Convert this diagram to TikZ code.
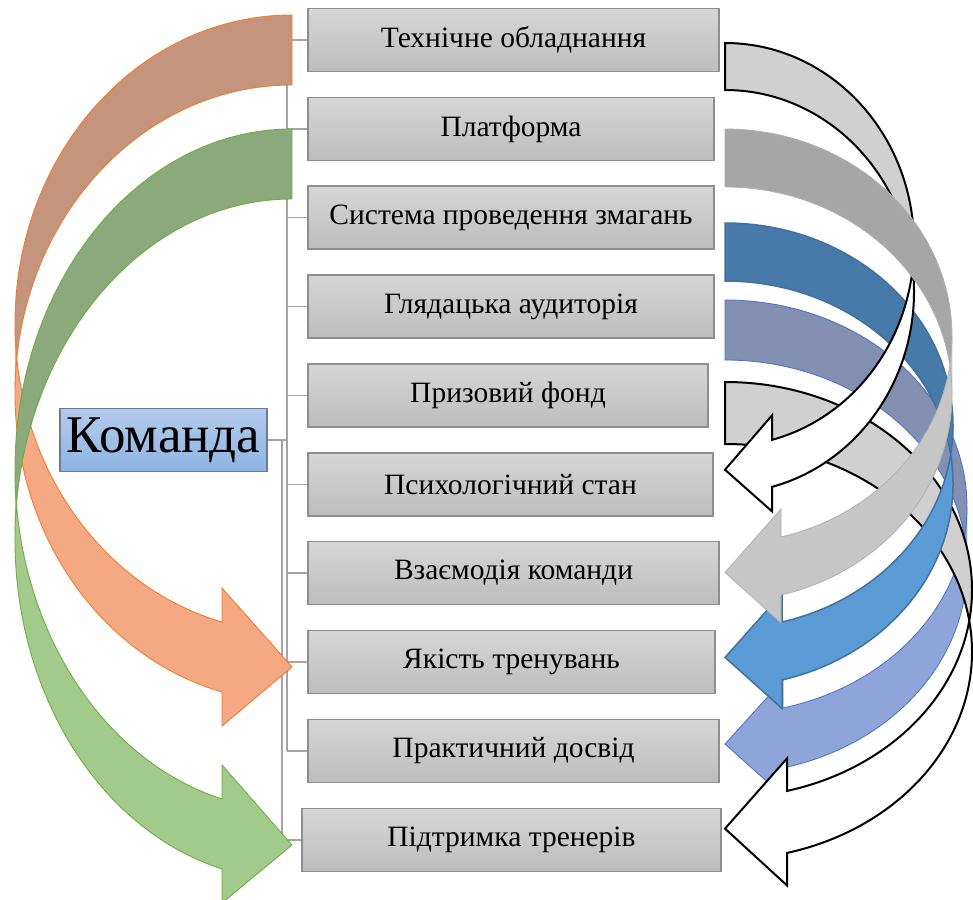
\documentclass[tikz,border=0pt]{standalone}
\usepackage{fontspec}
\setmainfont{Liberation Serif}
\definecolor{boxtop}{HTML}{D6D6D6}
\definecolor{boxbot}{HTML}{BDBDBD}
\definecolor{boxdraw}{HTML}{8E8E8E}
\definecolor{komtop}{HTML}{B3CBEB}
\definecolor{kombot}{HTML}{8EB4E3}
\definecolor{komdraw}{HTML}{6E7B91}
\definecolor{connc}{HTML}{A5A5A5}
\definecolor{orDark}{HTML}{C5947D}
\definecolor{orLight}{HTML}{F5A983}
\definecolor{orLine}{HTML}{ED7D31}
\definecolor{grDark}{HTML}{8CA97B}
\definecolor{grLight}{HTML}{A2CA8A}
\definecolor{grLine}{HTML}{70AD47}
\definecolor{lgray}{HTML}{D0D0D0}
\definecolor{bDark}{HTML}{A6A6A6}
\definecolor{bLight}{HTML}{C6C6C6}
\definecolor{bLine}{HTML}{B0B0B0}
\definecolor{cDark}{HTML}{477AA8}
\definecolor{cLight}{HTML}{5B9BD5}
\definecolor{cLine}{HTML}{41719C}
\definecolor{dDark}{HTML}{8490B2}
\definecolor{dLight}{HTML}{8FA4D8}
\definecolor{dLine}{HTML}{4472C4}
% curved arrow bending left, arrow points right: R, T, w, hR, th, ah, aw, style prefix
\newcommand\LArrow[8]{%
 \pgfmathsetmacro\mySw{acos(#6/#3)}%
 \pgfmathsetmacro\myYf{#2+#4+#4*sin(\mySw)}%
 \pgfmathsetmacro\myYa{\myYf-(#7-#5)/2}%
 \pgfmathsetmacro\myYs{\myYf+#5}%
 \pgfmathsetmacro\myYe{\myYs+(#7-#5)/2}%
 \pgfmathsetmacro\myYt{#2+2*#4+#5/2}%
 \pgfmathsetmacro\myXl{#1-#3}%
 \pgfmathsetmacro\myXb{#1-#6}%
 \pgfmathsetmacro\myAe{180-\mySw}%
 \pgfmathsetmacro\myYm{#2+#4}%
 \pgfmathsetmacro\myYn{#2+#4+#5}%
 \fill[#8dk] (#1,#2) arc[start angle=270,end angle=180,x radius=#3,y radius=#4] -- (\myXl,\myYn) arc[start angle=180,end angle=270,x radius=#3,y radius=#4] -- cycle;
 \fill[#8lt] (\myXl,\myYm) arc[start angle=180,end angle=\myAe,x radius=#3,y radius=#4] -- (\myXb,\myYa) -- (#1,\myYt) -- (\myXb,\myYe) -- (\myXb,\myYs) arc[start angle=\myAe,end angle=180,x radius=#3,y radius=#4] -- cycle;
 \draw[#8ln] (\myXl,\myYm) arc[start angle=180,end angle=\myAe,x radius=#3,y radius=#4] -- (\myXb,\myYa) -- (#1,\myYt) -- (\myXb,\myYe) -- (\myXb,\myYs) arc[start angle=\myAe,end angle=180,x radius=#3,y radius=#4] arc[start angle=180,end angle=270,x radius=#3,y radius=#4] -- (#1,#2) arc[start angle=270,end angle=180,x radius=#3,y radius=#4] -- cycle;
}
% curved arrow bending right, arrow points left: L, T, w, hR, th, ah, aw, style prefix
\newcommand\RArrow[8]{%
 \pgfmathsetmacro\mySw{acos(#6/#3)}%
 \pgfmathsetmacro\myYf{#2+#4+#4*sin(\mySw)}%
 \pgfmathsetmacro\myYa{\myYf-(#7-#5)/2}%
 \pgfmathsetmacro\myYs{\myYf+#5}%
 \pgfmathsetmacro\myYe{\myYs+(#7-#5)/2}%
 \pgfmathsetmacro\myYt{#2+2*#4+#5/2}%
 \pgfmathsetmacro\myXl{#1+#3}%
 \pgfmathsetmacro\myXb{#1+#6}%
 \pgfmathsetmacro\myAe{\mySw}%
 \pgfmathsetmacro\myYm{#2+#4}%
 \pgfmathsetmacro\myYn{#2+#4+#5}%
 \fill[#8dk] (#1,#2) arc[start angle=-90,end angle=0,x radius=#3,y radius=#4] -- (\myXl,\myYn) arc[start angle=0,end angle=-90,x radius=#3,y radius=#4] -- cycle;
 \fill[#8lt] (\myXl,\myYm) arc[start angle=0,end angle=\myAe,x radius=#3,y radius=#4] -- (\myXb,\myYa) -- (#1,\myYt) -- (\myXb,\myYe) -- (\myXb,\myYs) arc[start angle=\myAe,end angle=0,x radius=#3,y radius=#4] -- cycle;
 \draw[#8ln] (\myXl,\myYm) arc[start angle=0,end angle=\myAe,x radius=#3,y radius=#4] -- (\myXb,\myYa) -- (#1,\myYt) -- (\myXb,\myYe) -- (\myXb,\myYs) arc[start angle=\myAe,end angle=0,x radius=#3,y radius=#4] arc[start angle=0,end angle=-90,x radius=#3,y radius=#4] -- (#1,#2) arc[start angle=-90,end angle=0,x radius=#3,y radius=#4] -- cycle;
}
\begin{document}
\begin{tikzpicture}[x=1pt,y=-1pt,
  box/.style={draw=boxdraw, line width=1.2pt, top color=boxtop, bottom color=boxbot,
    minimum height=63pt, inner sep=0pt, font=\fontsize{29.5}{35}\selectfont},
  kom/.style={draw=komdraw, line width=1.2pt, top color=komtop, bottom color=kombot,
    minimum width=207pt, minimum height=63pt, inner sep=0pt, font=\fontsize{53}{62}\selectfont},
  conn/.style={draw=connc, line width=1.6pt},
  sOrdk/.style={fill=orDark}, sOrlt/.style={fill=orLight}, sOrln/.style={draw=orLine, line width=0.9pt},
  sGrdk/.style={fill=grDark}, sGrlt/.style={fill=grLight}, sGrln/.style={draw=grLine, line width=0.9pt},
  sAdk/.style={fill=lgray}, sAlt/.style={fill=white}, sAln/.style={draw=black, line width=2pt},
  sBdk/.style={fill=bDark}, sBlt/.style={fill=bLight}, sBln/.style={draw=bLine, line width=0.8pt},
  sCdk/.style={fill=cDark}, sClt/.style={fill=cLight}, sCln/.style={draw=cLine, line width=1.5pt},
  sDdk/.style={fill=dDark}, sDlt/.style={fill=dLight}, sDln/.style={draw=dLine, line width=0.8pt},
  sEdk/.style={fill=lgray}, sElt/.style={fill=white}, sEln/.style={draw=black, line width=2pt}]
\useasboundingbox (0,0) rectangle (973,899);
\clip (0,0) rectangle (973,899);

\coordinate (trunk) at (287,0);
\coordinate (trunkb) at (282,0);

\node[kom] (kom) at (163.5,440) {Команда};
\node[box, minimum width=411pt] (b1) at (513.5,40) {Технічне обладнання};
\node[box, minimum width=406pt] (b2) at (511,129) {Платформа};
\node[box, minimum width=406pt] (b3) at (511,217.5) {Система проведення змагань};
\node[box, minimum width=406pt] (b4) at (511,306.5) {Глядацька аудиторія};
\node[box, minimum width=400pt] (b5) at (508,395.5) {Призовий фонд};
\node[box, minimum width=405pt] (b6) at (510.5,484.5) {Психологічний стан};
\node[box, minimum width=411pt] (b7) at (513.5,573) {Взаємодія команди};
\node[box, minimum width=407pt] (b8) at (511.5,662) {Якість тренувань};
\node[box, minimum width=411pt] (b9) at (513.5,751) {Практичний досвід};
\node[box, minimum width=419pt] (b10) at (511.5,840) {Підтримка тренерів};

\draw[conn] (b1.west -| trunk) -- (b9.west -| trunk);
\foreach \i in {1,...,9} {\draw[conn] (b\i.west -| trunk) -- (b\i.west);}
\draw[conn] (kom.east) -- (kom.east -| trunk);
\draw[conn] (kom.east -| trunkb) -- (b10.west -| trunkb) -- (b10.west);

% left arrows
\LArrow{292}{15}{277}{308.5}{70}{70}{138}{sOr}
\LArrow{292}{129}{277}{340.5}{70}{70}{138}{sGr}

% right arrows
\RArrow{725}{300}{242}{207}{60}{58}{116}{sD}
\RArrow{725}{382}{247}{207.8}{62}{62}{127}{sE}
\RArrow{725}{223}{228}{202.7}{58}{57}{115}{sC}
\RArrow{725}{43}{189}{201.6}{47}{47}{96}{sA}
\RArrow{725}{129}{227}{207.2}{58}{56}{114}{sB}
\end{tikzpicture}
\end{document}
